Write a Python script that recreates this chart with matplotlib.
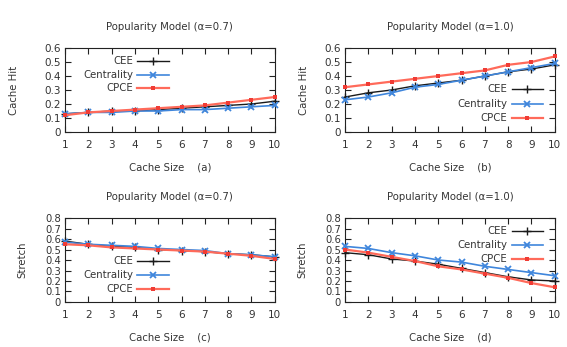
import numpy as np
import matplotlib
matplotlib.use('Agg')
import matplotlib.pyplot as plt

cache_size = [1, 2, 3, 4, 5, 6, 7, 8, 9, 10]

# (a) cache hit, alpha=0.7
hit07_cee = [0.13, 0.14, 0.15, 0.15, 0.16, 0.17, 0.18, 0.19, 0.20, 0.22]
hit07_cent = [0.13, 0.14, 0.14, 0.15, 0.15, 0.16, 0.16, 0.17, 0.18, 0.19]
hit07_cpce = [0.12, 0.14, 0.15, 0.16, 0.17, 0.18, 0.19, 0.21, 0.23, 0.25]

# (b) cache hit, alpha=1.0
hit10_cee = [0.25, 0.28, 0.30, 0.33, 0.35, 0.37, 0.40, 0.43, 0.45, 0.48]
hit10_cent = [0.23, 0.25, 0.28, 0.32, 0.34, 0.37, 0.40, 0.43, 0.46, 0.49]
hit10_cpce = [0.32, 0.34, 0.36, 0.38, 0.40, 0.42, 0.44, 0.48, 0.50, 0.54]

# (c) stretch, alpha=0.7
str07_cee = [0.58, 0.55, 0.53, 0.52, 0.50, 0.49, 0.48, 0.46, 0.45, 0.43]
str07_cent = [0.57, 0.55, 0.54, 0.53, 0.51, 0.50, 0.49, 0.46, 0.45, 0.43]
str07_cpce = [0.55, 0.54, 0.52, 0.51, 0.50, 0.49, 0.48, 0.46, 0.44, 0.41]

# (d) stretch, alpha=1.0
str10_cee = [0.47, 0.45, 0.41, 0.39, 0.36, 0.32, 0.28, 0.24, 0.21, 0.20]
str10_cent = [0.53, 0.51, 0.47, 0.44, 0.40, 0.38, 0.34, 0.31, 0.28, 0.25]
str10_cpce = [0.50, 0.47, 0.43, 0.39, 0.34, 0.31, 0.27, 0.23, 0.18, 0.14]

names = ['CEE', 'Centrality', 'CPCE']

txtcol = '#333333'
styles = [
    dict(color='#1a1a1a', marker='+', ms=6, mew=1.0, lw=1.0),
    dict(color='#3f86dc', marker='x', ms=5, mew=1.3, lw=1.2),
    dict(color='#ff6a5a', marker='s', ms=3.5, mew=0, lw=1.6, mfc='#f03c35'),
]

panels = [
    ('Popularity Model (\u03b1=0.7)', 'Cache Hit', '(a)', [hit07_cee, hit07_cent, hit07_cpce],
     0.6, [0.845, 0.679, 0.524]),
    ('Popularity Model (\u03b1=1.0)', 'Cache Hit', '(b)', [hit10_cee, hit10_cent, hit10_cpce],
     0.6, [0.512, 0.333, 0.167]),
    ('Popularity Model (\u03b1=0.7)', 'Stretch', '(c)', [str07_cee, str07_cent, str07_cpce],
     0.8, [0.488, 0.321, 0.155]),
    ('Popularity Model (\u03b1=1.0)', 'Stretch', '(d)', [str10_cee, str10_cent, str10_cpce],
     0.8, [0.845, 0.679, 0.508]),
]

lefts = [0.1146, 0.6085, 0.1146, 0.6085]
bottoms = [0.6196, 0.6196, 0.1297, 0.1297]
leg_x = [0.324, 0.775, 0.324, 0.775]
ylab_x = [-0.221, -0.174, -0.179, -0.179]

fig = plt.figure(figsize=(5.67, 3.47), dpi=100)
plt.rcParams['font.family'] = 'DejaVu Sans'

for i, (title, ylab, tag, series, ymax, leg_y) in enumerate(panels):
    ax = fig.add_axes([lefts[i], bottoms[i], 0.370, 0.242])
    for vals, st in zip(series, styles):
        ax.plot(cache_size, vals, clip_on=False, zorder=3, **st)

    # gnuplot style key: label right aligned, sample to the right
    for name, st, ly in zip(names, styles, leg_y):
        ax.text(leg_x[i], ly, name, transform=ax.transAxes, ha='right', va='center',
                fontsize=7.3, color=txtcol)
        ax.plot([leg_x[i] + 0.019, leg_x[i] + 0.17], [ly, ly], transform=ax.transAxes,
                color=st['color'], lw=st['lw'], zorder=4)
        ax.plot([leg_x[i] + 0.094], [ly], transform=ax.transAxes, linestyle='none',
                **{k: v for k, v in st.items() if k not in ('lw',)}, zorder=4)

    ax.set_xlim(1, 10)
    ax.set_ylim(0, ymax)
    ax.set_xticks(cache_size)
    yt = np.round(np.arange(0, ymax + 0.01, 0.1), 1)
    ax.set_yticks(yt)
    ax.set_yticklabels(['0'] + ['%.1f' % v for v in yt[1:]])
    ax.tick_params(direction='in', top=True, right=True, length=4, width=0.8,
                   labelsize=7.5, labelcolor=txtcol, colors='#222222', pad=6)
    ax.tick_params(axis='y', pad=3)
    if ymax > 0.7:
        ax.tick_params(axis='y', labelsize=7.2)
    for sp in ax.spines.values():
        sp.set_linewidth(0.8)
        sp.set_color('#222222')
    ax.set_title(title, fontsize=7.3, color=txtcol, pad=13)
    ax.set_xlabel('Cache Size    ' + tag, fontsize=7.3, color=txtcol, labelpad=9)
    ax.set_ylabel(ylab, fontsize=7.3, color=txtcol)
    ax.yaxis.set_label_coords(ylab_x[i], 0.5)

fig.savefig('out.png', dpi=100)
